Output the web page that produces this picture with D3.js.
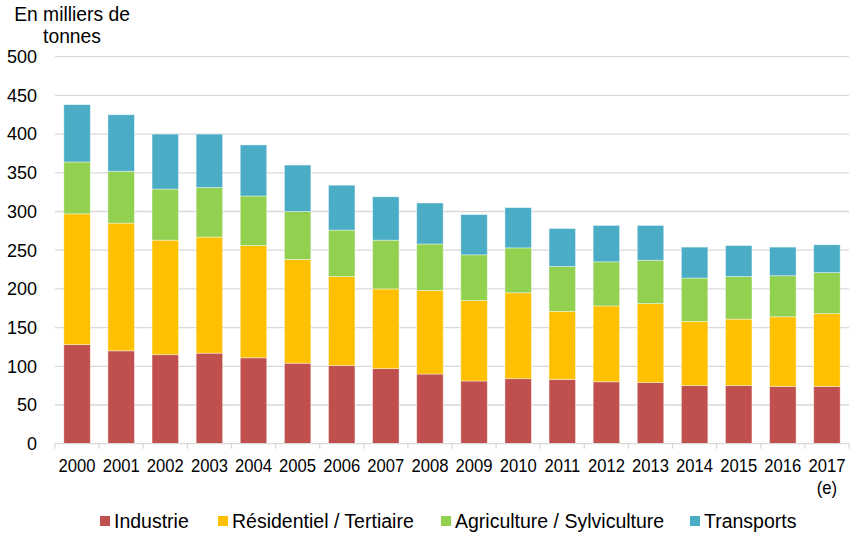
<!DOCTYPE html>
<html>
<head>
<meta charset="utf-8">
<script src="https://cdn.jsdelivr.net/npm/d3@7"></script>
<style>
  html, body { margin: 0; padding: 0; background: #fff; }
  svg { display: block; font-family: "Liberation Sans", Arial, sans-serif; }
</style>
</head>
<body>
<svg id="chart" width="850" height="535"></svg>
<script>
const years = ["2000","2001","2002","2003","2004","2005","2006","2007","2008","2009","2010","2011","2012","2013","2014","2015","2016","2017"];
const seriesNames = ["Industrie", "Résidentiel / Tertiaire", "Agriculture / Sylviculture", "Transports"];
const industrie    = [128, 120, 115, 117, 111, 104, 101, 97, 90, 81, 84, 83, 80, 79, 75, 75, 74, 74];
const residentiel  = [169, 165, 148, 150, 145, 134, 115, 103, 108, 104, 111, 88, 98, 102, 83, 86, 90, 94];
const agriculture  = [67, 67, 66, 64, 64, 62, 60, 63, 60, 59, 58, 58, 57, 56, 56, 55, 53, 53];
const transports   = [74, 73, 71, 69, 66, 60, 58, 56, 53, 52, 52, 49, 47, 45, 40, 40, 37, 36];
const yTicks = [0, 50, 100, 150, 200, 250, 300, 350, 400, 450, 500];
const colors = ["#C0504D", "#FFC000", "#92D050", "#4BACC6"];
const yTitleLines = ["En milliers de", "tonnes"];

const svg = d3.select("#chart");
const x0 = 55, x1 = 849, yTop = 56.7, yBot = 443.7;

const x = d3.scaleBand().domain(years).range([x0, x1]).paddingInner(0.4).paddingOuter(0.2);
const y = d3.scaleLinear().domain([0, 500]).range([yBot, yTop]);

const table = years.map((yr, i) => ({
  year: yr,
  [seriesNames[0]]: industrie[i],
  [seriesNames[1]]: residentiel[i],
  [seriesNames[2]]: agriculture[i],
  [seriesNames[3]]: transports[i]
}));
const stacked = d3.stack().keys(seriesNames)(table);

// gridlines
svg.append("g").selectAll("line").data(yTicks.filter(t => t > 0)).join("line")
  .attr("x1", x0).attr("x2", x1)
  .attr("y1", d => y(d)).attr("y2", d => y(d))
  .attr("stroke", "#d9d9d9").attr("stroke-width", 1.3);

// y labels
svg.append("g").selectAll("text").data(yTicks).join("text")
  .attr("x", 37).attr("y", d => y(d))
  .attr("dy", "0.35em")
  .attr("text-anchor", "end")
  .attr("font-size", 18).attr("fill", "#000")
  .text(d => d);

// bars
svg.append("g").selectAll("g").data(stacked).join("g")
  .attr("fill", (d, i) => colors[i])
  .selectAll("rect").data(d => d).join("rect")
  .attr("x", d => x(d.data.year))
  .attr("width", x.bandwidth())
  .attr("y", d => y(d[1]))
  .attr("height", d => y(d[0]) - y(d[1]))
  .attr("stroke", "#ffffff").attr("stroke-opacity", 0.5).attr("stroke-width", 0.8);

// x axis line and ticks
svg.append("line").attr("x1", x0).attr("x2", x1).attr("y1", yBot).attr("y2", yBot)
  .attr("stroke", "#d9d9d9").attr("stroke-width", 1.3);
const bounds = years.map((yr, i) => x0 + i * (x1 - x0) / years.length).concat([x1]);
svg.append("g").selectAll("line").data(bounds).join("line")
  .attr("x1", d => d).attr("x2", d => d)
  .attr("y1", yBot).attr("y2", yBot + 5)
  .attr("stroke", "#d9d9d9").attr("stroke-width", 1.3);

// x labels
svg.append("g").selectAll("text").data(years).join("text")
  .attr("transform", d => `translate(${x(d) + x.bandwidth() / 2},${472}) scale(0.9,1)`)
  .attr("text-anchor", "middle")
  .attr("font-size", 18.5).attr("fill", "#000")
  .text(d => d);
svg.append("text")
  .attr("transform", `translate(${x("2017") + x.bandwidth() / 2},${494}) scale(0.9,1)`)
  .attr("text-anchor", "middle").attr("font-size", 18.5).text("(e)");

// y title
svg.append("g").selectAll("text").data(yTitleLines).join("text")
  .attr("x", 72).attr("y", (d, i) => 21 + i * 22)
  .attr("text-anchor", "middle").attr("font-size", 19.3).attr("fill", "#000")
  .text(d => d);

// legend
const legendX = [100, 218, 441, 690];
const lg = svg.append("g").selectAll("g").data(seriesNames).join("g")
  .attr("transform", (d, i) => `translate(${legendX[i]},521)`);
lg.append("rect").attr("x", 0).attr("y", -5).attr("width", 10).attr("height", 10)
  .attr("fill", (d, i) => colors[i]);
lg.append("text").attr("x", 14).attr("y", 0).attr("dy", "0.35em")
  .attr("font-size", 19.5).attr("fill", "#000")
  .text(d => d);
</script>
</body>
</html>
